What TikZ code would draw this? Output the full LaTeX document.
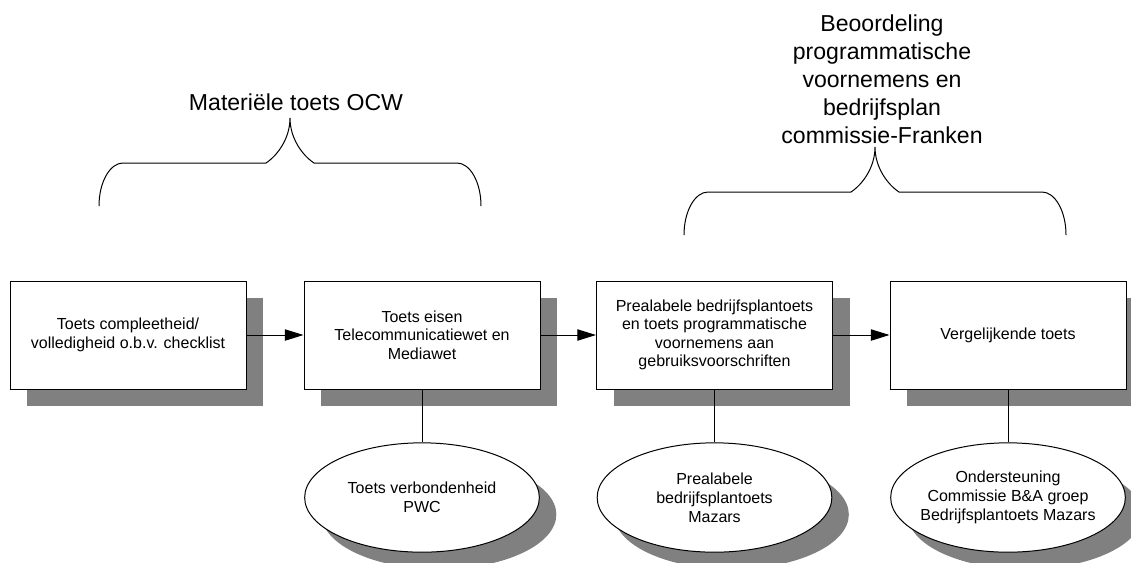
\documentclass[tikz,border=0pt]{standalone}
\usepackage{fontspec}
\setmainfont{Liberation Sans}
\usetikzlibrary{arrows.meta,shapes.geometric,shadows}
\definecolor{schaduw}{HTML}{808080}

\begin{document}
\begin{tikzpicture}[
    x=0.75pt,y=-0.75pt,
    stap/.style   = {rectangle, draw, fill=white, line width=0.75pt,
                     align=center, font=\fontsize{12}{13.8}\selectfont,
                     minimum width=177pt, minimum height=81pt, inner sep=2pt,
                     drop shadow={shadow xshift=12.75pt, shadow yshift=-12.75pt,
                                  fill=schaduw, opacity=1}},
    steun/.style  = {ellipse, draw, fill=white, line width=0.75pt,
                     align=center, font=\fontsize{12}{14.3}\selectfont,
                     minimum width=176pt, minimum height=82pt,
                     inner sep=0pt, inner xsep=-30pt,
                     drop shadow={shadow xshift=12.75pt, shadow yshift=-12.75pt,
                                  fill=schaduw, opacity=1}},
    pijl/.style   = {-{Triangle[length=14pt,width=8.5pt]}, line width=0.75pt},
    lijn/.style   = {line width=0.75pt},
    kop/.style    = {align=center, inner sep=0pt,
                     font=\fontsize{17.3}{21}\selectfont},
  ]

  \tikzset{accolade/.pic={
      \draw[line width=0.75pt]
        (-191,88) .. controls (-191,64) and (-180,45) .. (-167,45)
        -- (-24,45) .. controls (-12,37) and (0,20) .. (0,0)
        .. controls (0,20) and (12,37) .. (24,45)
        -- (167,45) .. controls (180,45) and (191,64) .. (191,88);}}

  \useasboundingbox (0,0) rectangle (1131,562);

  % stappen
  \node[stap] (compleet)  at (128,335)   {Toets compleetheid/\\volledigheid o.b.v. checklist};
  \node[stap] (eisen)     at (422,335)   {Toets eisen\\Telecommunicatiewet en\\Mediawet};
  \node[stap] (prealabel) at (714.5,335) {Prealabele bedrijfsplantoets\\en toets programmatische\\voornemens aan\\gebruiksvoorschriften};
  \node[stap] (vergelijk) at (1008,335)  {Vergelijkende toets};

  % ondersteuning
  \node[steun] (pwc)    at (422,497.5)   {Toets verbondenheid\\PWC};
  \node[steun] (mazars) at (714.5,497.5) {Prealabele\\bedrijfsplantoets\\Mazars};
  \node[steun] (commis) at (1008,497.5)  {Ondersteuning\\Commissie B\&A groep\\Bedrijfsplantoets Mazars};

  \draw[pijl] (compleet.east)  -- (eisen.west);
  \draw[pijl] (eisen.east)     -- (prealabel.west);
  \draw[pijl] (prealabel.east) -- (vergelijk.west);

  \draw[lijn] (eisen.south)     -- (pwc.north);
  \draw[lijn] (prealabel.south) -- (mazars.north);
  \draw[lijn] (vergelijk.south) -- (commis.north);

  % accolades
  \pic at (290,118) {accolade};
  \node[kop] (ocw) at (296,102) {Materiële toets OCW};

  \pic at (875,147) {accolade};
  \node[kop] (franken) at (882,79)
       {Beoordeling\\programmatische\\voornemens en\\bedrijfsplan\\commissie-Franken};

\end{tikzpicture}
\end{document}
